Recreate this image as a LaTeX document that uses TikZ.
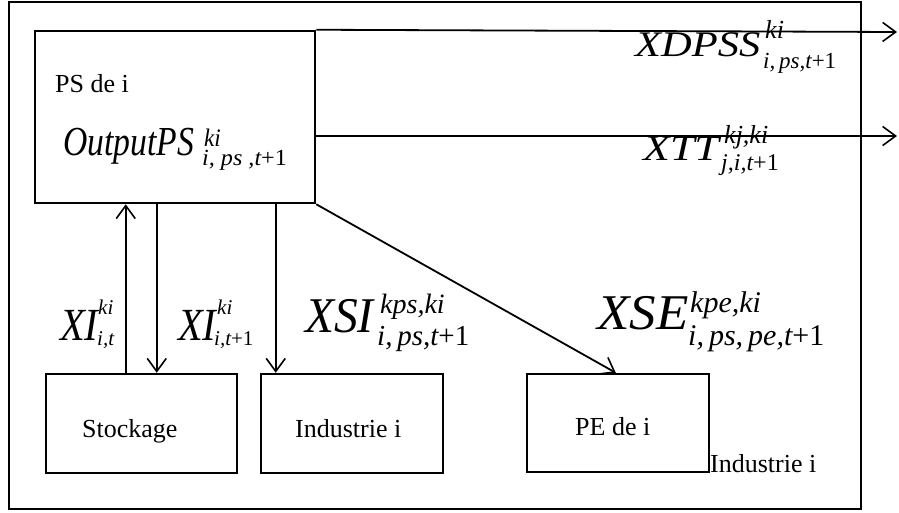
\documentclass[tikz,border=0pt]{standalone}
\usepackage{graphicx}
\usepackage{fontspec}
\setmainfont{Liberation Serif}
\usetikzlibrary{arrows.meta}
\newcommand{\up}[1]{{\upshape #1}}
\begin{document}
\begin{tikzpicture}[x=1pt,y=-1pt,
  box/.style={draw,line width=2.5pt,inner sep=0pt,minimum width=#1},
  arr/.style={line width=1.8pt,-{Straight Barb[length=13pt,width=19pt,line width=1.6pt]}},
  lbl/.style={anchor=base west,inner sep=0pt,font=\fontsize{26}{28}\selectfont},
  eq/.style={anchor=base west,inner sep=0pt,font=\fontsize{#1}{#1}\selectfont\itshape}]
\useasboundingbox (0,0) rectangle (899,512);
\node[box=852pt,minimum height=507pt] (frame) at (435,255.5) {};
\node[box=280pt,minimum height=172pt] (ps) at (175,117) {};
\node[box=191pt,minimum height=99pt] (stock) at (141.5,423.5) {};
\node[box=182pt,minimum height=99pt] (ind) at (352,423.5) {};
\node[box=182pt,minimum height=98pt] (pe) at (618,423) {};
\node[lbl] (pst) at (55,92) {PS de i};
\node[lbl] (stt) at (82,437) {Stockage};
\node[lbl] (indt) at (295,437) {Industrie i};
\node[lbl] (pet) at (575,435) {PE de i};
\node[lbl] (ind2) at (710,472) {Industrie i};
% OutputPS
\node[eq=33] (outm) at (63,155) {\scalebox{1.02}[1.25]{OutputPS}};
\node[eq=21] (outsup) at (204,146) {\scalebox{1.1}[1.2]{ki}};
\node[eq=21] (outsub) at (202,165) {\scalebox{1.15}[1.1]{i, ps ,t\up{+1}}};
% XDPSS
\node[eq=36] (xdm) at (635,56) {\scalebox{1.18}[1]{XDPSS}};
\node[eq=26] (xdsup) at (765,38) {ki};
\node[eq=23] (xdsub) at (763,68) {i,\,ps,t\up{+1}};
% XTT
\node[eq=36] (xtm) at (643,160) {\scalebox{1.22}[1]{XTT}};
\node[eq=26] (xtsup) at (724,143) {kj,ki};
\node[eq=24] (xtsub) at (721,170) {j,i,t\up{+1}};
% XI t
\node[eq=46] (xi1m) at (60,340) {\scalebox{0.88}[1]{XI}};
\node[eq=21] (xi1sup) at (98,314) {ki};
\node[eq=21] (xi1sub) at (97,345) {i,t};
% XI t+1
\node[eq=46] (xi2m) at (178,340) {\scalebox{0.88}[1]{XI}};
\node[eq=21] (xi2sup) at (217,314) {ki};
\node[eq=21] (xi2sub) at (214,345) {i,t\up{+1}};
% XSI
\node[eq=50] (xsim) at (305,332) {\scalebox{0.95}[1]{XSI}};
\node[eq=28] (xsisup) at (380,313) {kps,ki};
\node[eq=29] (xsisub) at (377,345) {i,\,ps,t\up{+1}};
% XSE
\node[eq=50] (xsem) at (597,329) {\scalebox{1.06}[1]{XSE}};
\node[eq=30] (xsesup) at (690,312) {kpe,ki};
\node[eq=30] (xsesub) at (688,345) {i,\,ps,\,pe,t\up{+1}};
% connectors
\coordinate (out1) at (897,32);
\coordinate (out2) at (897,136);
\draw[arr] (ps.north east) -- (out1);
\draw[arr] (ps.east |- out2) -- (out2);
\draw[arr] ([xshift=81pt]stock.north west) -- ([xshift=92pt]ps.south west);
\draw[arr] ([xshift=123pt]ps.south west) -- ([xshift=112pt]stock.north west);
\draw[arr] ([xshift=242pt]ps.south west) -- ([xshift=16pt]ind.north west);
\draw[arr] (ps.south east) -- ([xshift=90pt]pe.north west);
\end{tikzpicture}
\end{document}
